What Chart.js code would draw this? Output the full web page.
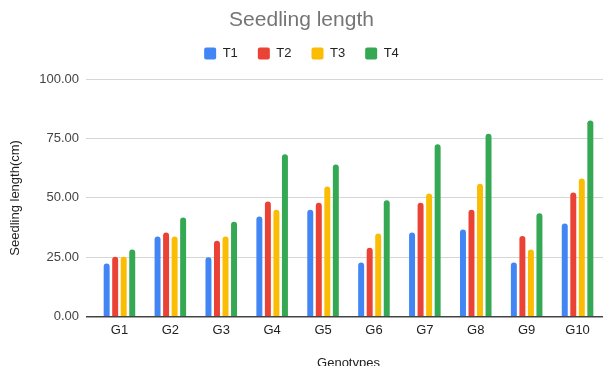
<!DOCTYPE html>
<html>
<head>
<meta charset="utf-8">
<script src="https://cdn.jsdelivr.net/npm/chart.js@4"></script>
<style>
  html, body { margin: 0; padding: 0; background: #fff; overflow: hidden; }
  #wrap { width: 609px; height: 366px; overflow: hidden; }
</style>
</head>
<body>
<div id="wrap"><canvas id="chart" width="609" height="375"></canvas></div>
<script>
// Seedling length per genotype and treatment
const genotypes = ['G1', 'G2', 'G3', 'G4', 'G5', 'G6', 'G7', 'G8', 'G9', 'G10'];
const t1 = [22.4, 33.8, 25.0, 42.2, 45.0, 22.8, 35.4, 36.7, 22.8, 39.2];
const t2 = [25.2, 35.4, 32.0, 48.5, 48.0, 29.0, 48.0, 45.0, 34.0, 52.3];
const t3 = [25.2, 33.8, 33.8, 45.0, 54.8, 35.0, 51.9, 56.0, 28.3, 58.2];
const t4 = [28.3, 41.8, 40.0, 68.4, 64.0, 49.0, 72.6, 77.0, 43.5, 82.6];
const yTicks = [0, 25, 50, 75, 100];

const colors = ['#4285F4', '#EA4335', '#FBBC04', '#34A853'];
const seriesNames = ['T1', 'T2', 'T3', 'T4'];
const seriesData = [t1, t2, t3, t4];

const FONT = 'Liberation Sans, Arial, sans-serif';

// make room between the legend and the plot
const legendSpacer = {
  id: 'legendSpacer',
  beforeInit(chart) {
    const fit = chart.legend.fit;
    chart.legend.fit = function () {
      fit.bind(chart.legend)();
      this.height = 52;
    };
  }
};

const ctx = document.getElementById('chart').getContext('2d');
const chart = new Chart(ctx, {
  type: 'bar',
  data: {
    labels: genotypes,
    datasets: seriesData.map((d, i) => ({
      label: seriesNames[i],
      data: d,
      backgroundColor: colors[i],
      borderRadius: 3,
      borderSkipped: 'bottom',
      categoryPercentage: 0.67,
      barPercentage: 0.7
    }))
  },
  plugins: [legendSpacer],
  options: {
    responsive: false,
    animation: false,
    layout: { padding: { right: 6, bottom: 0 } },
    plugins: {
      title: {
        display: true,
        text: 'Seedling length',
        color: '#757575',
        font: { family: FONT, size: 21, weight: 'normal', lineHeight: 1 },
        padding: { top: 10, bottom: -4 }
      },
      legend: {
        position: 'top',
        labels: {
          color: '#222',
          font: { family: FONT, size: 13 },
          boxWidth: 12,
          boxHeight: 12,
          useBorderRadius: true,
          borderRadius: 2,
          padding: 20
        }
      },
      tooltip: { enabled: false }
    },
    scales: {
      x: {
        grid: { display: false, drawTicks: false },
        border: { display: false },
        ticks: {
          color: '#222',
          font: { family: FONT, size: 13 },
          padding: 6
        },
        title: {
          display: true,
          text: 'Genotypes',
          color: '#222',
          font: { family: FONT, size: 13 },
          padding: { top: 11, bottom: 4 }
        }
      },
      y: {
        min: 0,
        max: 100,
        afterBuildTicks: axis => { axis.ticks = yTicks.map(v => ({ value: v })); },
        afterFit: axis => { axis.width = 94; },
        border: { display: false },
        grid: {
          color: c => c.tick && c.tick.value === 0 ? '#444' : '#d6d6d6',
          lineWidth: c => c.tick && c.tick.value === 0 ? 1.5 : 1,
          tickLength: 8
        },
        ticks: {
          color: '#444',
          font: { family: FONT, size: 13 },
          padding: 7,
          callback: v => Number(v).toFixed(2)
        },
        title: {
          display: true,
          text: 'Seedling length(cm)',
          color: '#222',
          font: { family: FONT, size: 13 },
          padding: { top: 8, bottom: 0 }
        }
      }
    }
  }
});
</script>
</body>
</html>
